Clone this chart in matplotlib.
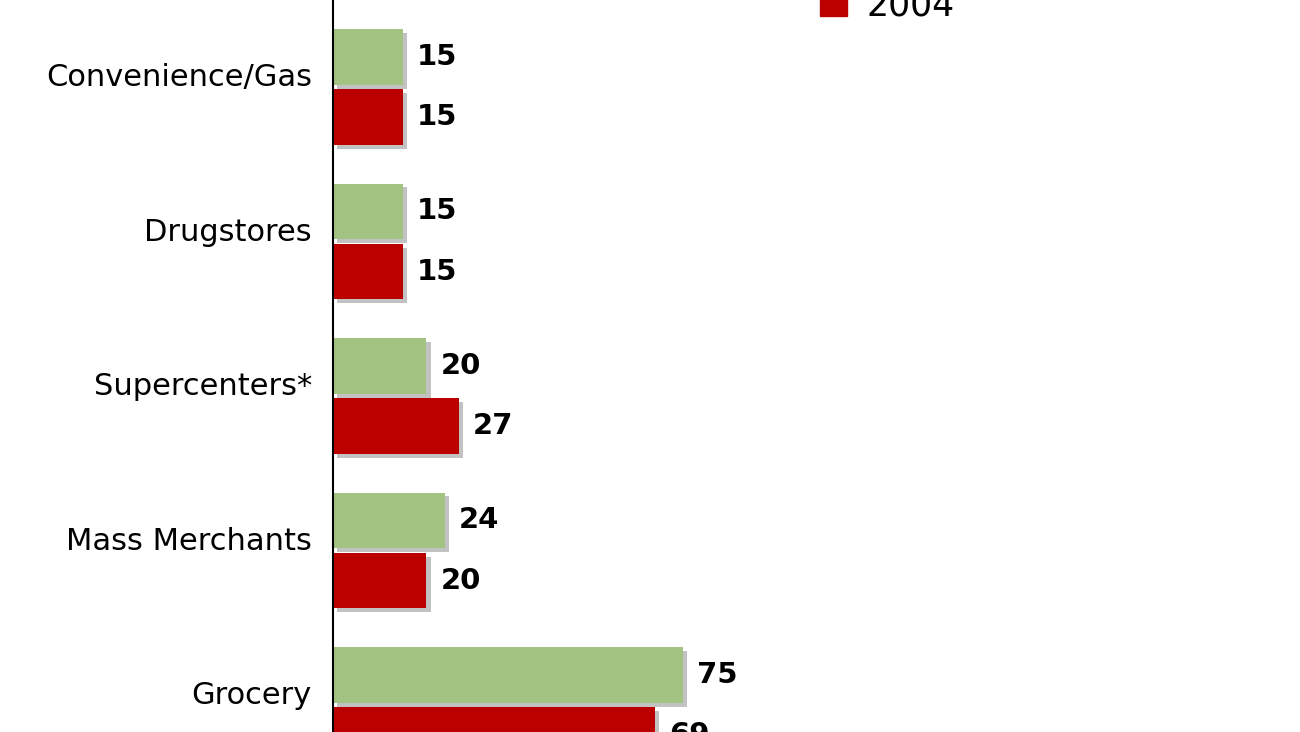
import matplotlib
matplotlib.use("Agg")
import matplotlib.pyplot as plt
import numpy as np

categories = ["Convenience/Gas", "Drugstores", "Supercenters*", "Mass Merchants", "Grocery"]
vals_2003 = [15, 15, 20, 24, 75]
vals_2004 = [15, 15, 27, 20, 69]

green = "#a3c382"
red = "#bb0000"
plt.rcParams['font.family'] = ['DejaVu Sans Condensed', 'DejaVu Sans']

fig = plt.figure(figsize=(13, 7.32), dpi=100)
# axes placed so the picture shows only part of the full chart
ax = fig.add_axes([333 / 1300, 0, 967 / 1300, 1])
ax.set_xlim(0, 967 / 4.67)
ax.set_ylim(732 / 154.5 - 87 / 154.5, -87 / 154.5)

y = np.arange(len(categories))
h = 0.36
off = 0.195
sx, sy = 0.9, 0.025
ax.barh(y - off + sy, vals_2003, height=h, left=sx, color="#9a9a9a", alpha=0.6, zorder=1)
ax.barh(y + off + sy, vals_2004, height=h, left=sx, color="#9a9a9a", alpha=0.6, zorder=1)
ax.barh(y - off, vals_2003, height=h, color=green, zorder=2)
ax.barh(y + off, vals_2004, height=h, color=red, zorder=2)

for i in y:
    ax.text(vals_2003[i] + 3, i - off, str(vals_2003[i]), va="center", ha="left",
            fontsize=21, fontweight="bold")
    ax.text(vals_2004[i] + 3, i + off, str(vals_2004[i]), va="center", ha="left",
            fontsize=21, fontweight="bold")
    ax.text(-4.5, i - 0.06, categories[i], va="center", ha="right", fontsize=22, clip_on=False)

for s in ["top", "right", "bottom"]:
    ax.spines[s].set_visible(False)
ax.spines["left"].set_linewidth(1.5)
ax.set_xticks([])
ax.set_yticks([])

# legend (only the 2004 entry is in view)
fig.patches.append(plt.Rectangle((820 / 1300, 1 - 16 / 732), 27 / 1300, 30 / 732,
                                 transform=fig.transFigure, color=red, zorder=5))
fig.text(866 / 1300, 1 - 6 / 732, "2004", fontsize=25, va="center", ha="left")

fig.savefig("out.png", dpi=100)
